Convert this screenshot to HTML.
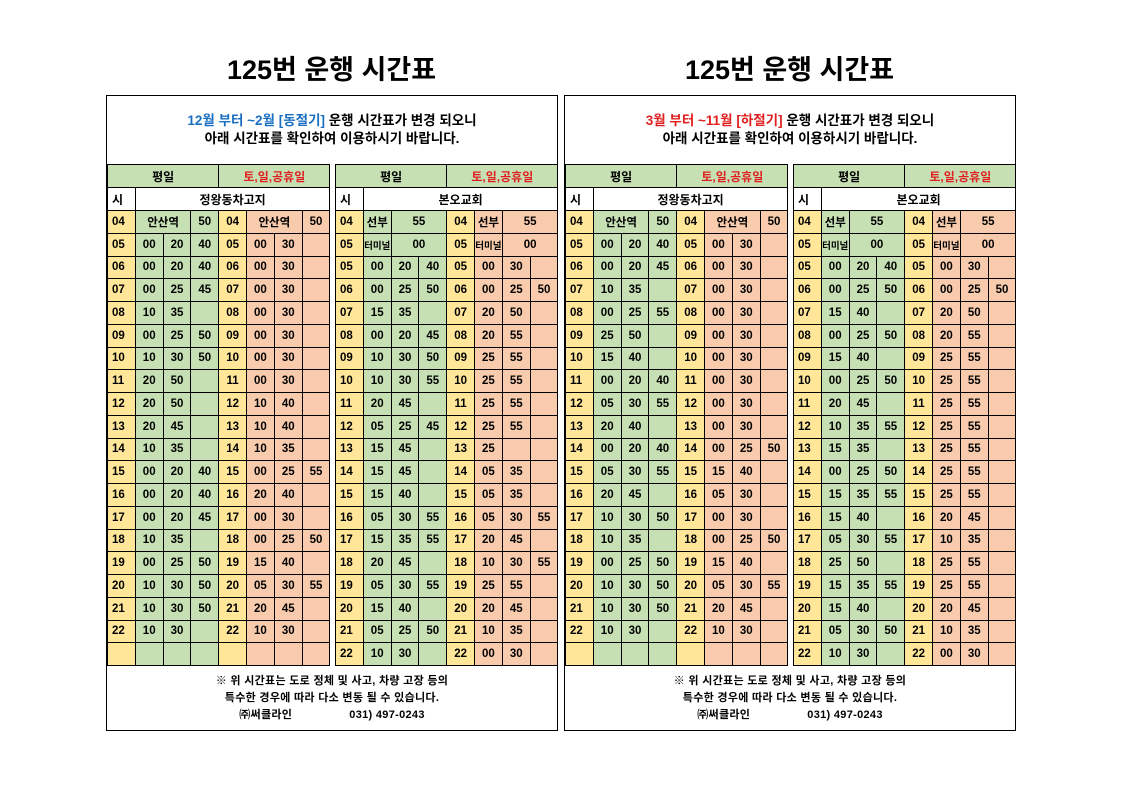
<!DOCTYPE html>
<html><head><meta charset="utf-8"><style>
body{margin:0;width:1122px;height:793px;background:#fff;font-family:"Liberation Sans","Noto Sans CJK KR","NanumGothic",sans-serif;position:relative;overflow:hidden}
.title{position:absolute;top:48px;width:451px;text-align:center;font-size:27px;font-weight:bold;color:#000}
.panel{position:absolute;top:95px;width:450px;height:634px;border:1px solid #000;box-sizing:content-box}
.head{position:absolute;top:16px;left:0;width:100%;text-align:center;font-size:13.5px;font-weight:bold;line-height:18px}
.foot{position:absolute;top:577px;left:0;width:100%;text-align:center;font-size:11px;font-weight:bold;line-height:17px;letter-spacing:0.3px}
table{position:absolute;top:68px;border-collapse:collapse;table-layout:fixed;font-size:11.5px;font-weight:bold}
td{border:1px solid #000;height:21.75px;padding:0;text-align:center;white-space:nowrap;overflow:hidden}
tr.h td{height:22px;font-size:12px}
td:nth-child(1),td:nth-child(5){background:#ffe699}
td:nth-child(2),td:nth-child(3),td:nth-child(4){background:#c6e0b4}
td:nth-child(6),td:nth-child(7),td:nth-child(8){background:#f8cbad}
td.y{background:#ffe699}td.g{background:#c6e0b4}td.p{background:#f8cbad}td.w{background:#fff}
.red{color:#e02020}.blue{color:#1a6fc0}
td.s{font-size:9.5px}
td:first-child{text-align:left;padding-left:4px}
</style></head><body>
<div class="title" style="left:106px">125번 운행 시간표</div>
<div class="title" style="left:564px">125번 운행 시간표</div>

<div class="panel" style="left:106px">
<div class="head"><span class="blue">12월 부터 ~2월 [동절기]</span> 운행 시간표가 변경 되오니<br>아래 시간표를 확인하여 이용하시기 바랍니다.</div>
<table style="left:0;width:223px"><colgroup><col span="8" style="width:27.8px"></colgroup>
<tr class="h"><td class="g" colspan="4" style="text-align:center;padding:0">평일</td><td class="g red" colspan="4" style="text-align:center;padding:0">토,일,공휴일</td></tr>
<tr class="h"><td class="w">시</td><td class="w" colspan="7">정왕동차고지</td></tr>
<tr><td>04</td><td class="g" colspan="2">안산역</td><td class="g">50</td><td class="y">04</td><td class="p" colspan="2">안산역</td><td class="p">50</td></tr>
<tr><td>05</td><td>00</td><td>20</td><td>40</td><td>05</td><td>00</td><td>30</td><td></td></tr>
<tr><td>06</td><td>00</td><td>20</td><td>40</td><td>06</td><td>00</td><td>30</td><td></td></tr>
<tr><td>07</td><td>00</td><td>25</td><td>45</td><td>07</td><td>00</td><td>30</td><td></td></tr>
<tr><td>08</td><td>10</td><td>35</td><td></td><td>08</td><td>00</td><td>30</td><td></td></tr>
<tr><td>09</td><td>00</td><td>25</td><td>50</td><td>09</td><td>00</td><td>30</td><td></td></tr>
<tr><td>10</td><td>10</td><td>30</td><td>50</td><td>10</td><td>00</td><td>30</td><td></td></tr>
<tr><td>11</td><td>20</td><td>50</td><td></td><td>11</td><td>00</td><td>30</td><td></td></tr>
<tr><td>12</td><td>20</td><td>50</td><td></td><td>12</td><td>10</td><td>40</td><td></td></tr>
<tr><td>13</td><td>20</td><td>45</td><td></td><td>13</td><td>10</td><td>40</td><td></td></tr>
<tr><td>14</td><td>10</td><td>35</td><td></td><td>14</td><td>10</td><td>35</td><td></td></tr>
<tr><td>15</td><td>00</td><td>20</td><td>40</td><td>15</td><td>00</td><td>25</td><td>55</td></tr>
<tr><td>16</td><td>00</td><td>20</td><td>40</td><td>16</td><td>20</td><td>40</td><td></td></tr>
<tr><td>17</td><td>00</td><td>20</td><td>45</td><td>17</td><td>00</td><td>30</td><td></td></tr>
<tr><td>18</td><td>10</td><td>35</td><td></td><td>18</td><td>00</td><td>25</td><td>50</td></tr>
<tr><td>19</td><td>00</td><td>25</td><td>50</td><td>19</td><td>15</td><td>40</td><td></td></tr>
<tr><td>20</td><td>10</td><td>30</td><td>50</td><td>20</td><td>05</td><td>30</td><td>55</td></tr>
<tr><td>21</td><td>10</td><td>30</td><td>50</td><td>21</td><td>20</td><td>45</td><td></td></tr>
<tr><td>22</td><td>10</td><td>30</td><td></td><td>22</td><td>10</td><td>30</td><td></td></tr>
<tr><td></td><td></td><td></td><td></td><td></td><td></td><td></td><td></td></tr>
</table>
<table style="left:228px;width:223px"><colgroup><col span="8" style="width:27.8px"></colgroup>
<tr class="h"><td class="g" colspan="4" style="text-align:center;padding:0">평일</td><td class="g red" colspan="4" style="text-align:center;padding:0">토,일,공휴일</td></tr>
<tr class="h"><td class="w">시</td><td class="w" colspan="7">본오교회</td></tr>
<tr><td>04</td><td class="g">선부</td><td class="g" colspan="2">55</td><td class="y">04</td><td class="p">선부</td><td class="p" colspan="2">55</td></tr>
<tr><td>05</td><td class="g s">터미널</td><td class="g" colspan="2">00</td><td class="y">05</td><td class="p s">터미널</td><td class="p" colspan="2">00</td></tr>
<tr><td>05</td><td>00</td><td>20</td><td>40</td><td>05</td><td>00</td><td>30</td><td></td></tr>
<tr><td>06</td><td>00</td><td>25</td><td>50</td><td>06</td><td>00</td><td>25</td><td>50</td></tr>
<tr><td>07</td><td>15</td><td>35</td><td></td><td>07</td><td>20</td><td>50</td><td></td></tr>
<tr><td>08</td><td>00</td><td>20</td><td>45</td><td>08</td><td>20</td><td>55</td><td></td></tr>
<tr><td>09</td><td>10</td><td>30</td><td>50</td><td>09</td><td>25</td><td>55</td><td></td></tr>
<tr><td>10</td><td>10</td><td>30</td><td>55</td><td>10</td><td>25</td><td>55</td><td></td></tr>
<tr><td>11</td><td>20</td><td>45</td><td></td><td>11</td><td>25</td><td>55</td><td></td></tr>
<tr><td>12</td><td>05</td><td>25</td><td>45</td><td>12</td><td>25</td><td>55</td><td></td></tr>
<tr><td>13</td><td>15</td><td>45</td><td></td><td>13</td><td>25</td><td></td><td></td></tr>
<tr><td>14</td><td>15</td><td>45</td><td></td><td>14</td><td>05</td><td>35</td><td></td></tr>
<tr><td>15</td><td>15</td><td>40</td><td></td><td>15</td><td>05</td><td>35</td><td></td></tr>
<tr><td>16</td><td>05</td><td>30</td><td>55</td><td>16</td><td>05</td><td>30</td><td>55</td></tr>
<tr><td>17</td><td>15</td><td>35</td><td>55</td><td>17</td><td>20</td><td>45</td><td></td></tr>
<tr><td>18</td><td>20</td><td>45</td><td></td><td>18</td><td>10</td><td>30</td><td>55</td></tr>
<tr><td>19</td><td>05</td><td>30</td><td>55</td><td>19</td><td>25</td><td>55</td><td></td></tr>
<tr><td>20</td><td>15</td><td>40</td><td></td><td>20</td><td>20</td><td>45</td><td></td></tr>
<tr><td>21</td><td>05</td><td>25</td><td>50</td><td>21</td><td>10</td><td>35</td><td></td></tr>
<tr><td>22</td><td>10</td><td>30</td><td></td><td>22</td><td>00</td><td>30</td><td></td></tr>
</table>
<div class="foot">※ 위 시간표는 도로 정체 및 사고, 차량 고장 등의<br>특수한 경우에 따라 다소 변동 될 수 있습니다.<br>㈜써클라인 &nbsp;&nbsp;&nbsp;&nbsp;&nbsp;&nbsp;&nbsp;&nbsp;&nbsp;&nbsp;&nbsp;&nbsp;&nbsp;&nbsp;&nbsp;&nbsp;031) 497-0243</div>
</div>

<div class="panel" style="left:564px">
<div class="head"><span class="red">3월 부터 ~11월 [하절기]</span> 운행 시간표가 변경 되오니<br>아래 시간표를 확인하여 이용하시기 바랍니다.</div>
<table style="left:0;width:223px"><colgroup><col span="8" style="width:27.8px"></colgroup>
<tr class="h"><td class="g" colspan="4" style="text-align:center;padding:0">평일</td><td class="g red" colspan="4" style="text-align:center;padding:0">토,일,공휴일</td></tr>
<tr class="h"><td class="w">시</td><td class="w" colspan="7">정왕동차고지</td></tr>
<tr><td>04</td><td class="g" colspan="2">안산역</td><td class="g">50</td><td class="y">04</td><td class="p" colspan="2">안산역</td><td class="p">50</td></tr>
<tr><td>05</td><td>00</td><td>20</td><td>40</td><td>05</td><td>00</td><td>30</td><td></td></tr>
<tr><td>06</td><td>00</td><td>20</td><td>45</td><td>06</td><td>00</td><td>30</td><td></td></tr>
<tr><td>07</td><td>10</td><td>35</td><td></td><td>07</td><td>00</td><td>30</td><td></td></tr>
<tr><td>08</td><td>00</td><td>25</td><td>55</td><td>08</td><td>00</td><td>30</td><td></td></tr>
<tr><td>09</td><td>25</td><td>50</td><td></td><td>09</td><td>00</td><td>30</td><td></td></tr>
<tr><td>10</td><td>15</td><td>40</td><td></td><td>10</td><td>00</td><td>30</td><td></td></tr>
<tr><td>11</td><td>00</td><td>20</td><td>40</td><td>11</td><td>00</td><td>30</td><td></td></tr>
<tr><td>12</td><td>05</td><td>30</td><td>55</td><td>12</td><td>00</td><td>30</td><td></td></tr>
<tr><td>13</td><td>20</td><td>40</td><td></td><td>13</td><td>00</td><td>30</td><td></td></tr>
<tr><td>14</td><td>00</td><td>20</td><td>40</td><td>14</td><td>00</td><td>25</td><td>50</td></tr>
<tr><td>15</td><td>05</td><td>30</td><td>55</td><td>15</td><td>15</td><td>40</td><td></td></tr>
<tr><td>16</td><td>20</td><td>45</td><td></td><td>16</td><td>05</td><td>30</td><td></td></tr>
<tr><td>17</td><td>10</td><td>30</td><td>50</td><td>17</td><td>00</td><td>30</td><td></td></tr>
<tr><td>18</td><td>10</td><td>35</td><td></td><td>18</td><td>00</td><td>25</td><td>50</td></tr>
<tr><td>19</td><td>00</td><td>25</td><td>50</td><td>19</td><td>15</td><td>40</td><td></td></tr>
<tr><td>20</td><td>10</td><td>30</td><td>50</td><td>20</td><td>05</td><td>30</td><td>55</td></tr>
<tr><td>21</td><td>10</td><td>30</td><td>50</td><td>21</td><td>20</td><td>45</td><td></td></tr>
<tr><td>22</td><td>10</td><td>30</td><td></td><td>22</td><td>10</td><td>30</td><td></td></tr>
<tr><td></td><td></td><td></td><td></td><td></td><td></td><td></td><td></td></tr>
</table>
<table style="left:228px;width:223px"><colgroup><col span="8" style="width:27.8px"></colgroup>
<tr class="h"><td class="g" colspan="4" style="text-align:center;padding:0">평일</td><td class="g red" colspan="4" style="text-align:center;padding:0">토,일,공휴일</td></tr>
<tr class="h"><td class="w">시</td><td class="w" colspan="7">본오교회</td></tr>
<tr><td>04</td><td class="g">선부</td><td class="g" colspan="2">55</td><td class="y">04</td><td class="p">선부</td><td class="p" colspan="2">55</td></tr>
<tr><td>05</td><td class="g s">터미널</td><td class="g" colspan="2">00</td><td class="y">05</td><td class="p s">터미널</td><td class="p" colspan="2">00</td></tr>
<tr><td>05</td><td>00</td><td>20</td><td>40</td><td>05</td><td>00</td><td>30</td><td></td></tr>
<tr><td>06</td><td>00</td><td>25</td><td>50</td><td>06</td><td>00</td><td>25</td><td>50</td></tr>
<tr><td>07</td><td>15</td><td>40</td><td></td><td>07</td><td>20</td><td>50</td><td></td></tr>
<tr><td>08</td><td>00</td><td>25</td><td>50</td><td>08</td><td>20</td><td>55</td><td></td></tr>
<tr><td>09</td><td>15</td><td>40</td><td></td><td>09</td><td>25</td><td>55</td><td></td></tr>
<tr><td>10</td><td>00</td><td>25</td><td>50</td><td>10</td><td>25</td><td>55</td><td></td></tr>
<tr><td>11</td><td>20</td><td>45</td><td></td><td>11</td><td>25</td><td>55</td><td></td></tr>
<tr><td>12</td><td>10</td><td>35</td><td>55</td><td>12</td><td>25</td><td>55</td><td></td></tr>
<tr><td>13</td><td>15</td><td>35</td><td></td><td>13</td><td>25</td><td>55</td><td></td></tr>
<tr><td>14</td><td>00</td><td>25</td><td>50</td><td>14</td><td>25</td><td>55</td><td></td></tr>
<tr><td>15</td><td>15</td><td>35</td><td>55</td><td>15</td><td>25</td><td>55</td><td></td></tr>
<tr><td>16</td><td>15</td><td>40</td><td></td><td>16</td><td>20</td><td>45</td><td></td></tr>
<tr><td>17</td><td>05</td><td>30</td><td>55</td><td>17</td><td>10</td><td>35</td><td></td></tr>
<tr><td>18</td><td>25</td><td>50</td><td></td><td>18</td><td>25</td><td>55</td><td></td></tr>
<tr><td>19</td><td>15</td><td>35</td><td>55</td><td>19</td><td>25</td><td>55</td><td></td></tr>
<tr><td>20</td><td>15</td><td>40</td><td></td><td>20</td><td>20</td><td>45</td><td></td></tr>
<tr><td>21</td><td>05</td><td>30</td><td>50</td><td>21</td><td>10</td><td>35</td><td></td></tr>
<tr><td>22</td><td>10</td><td>30</td><td></td><td>22</td><td>00</td><td>30</td><td></td></tr>
</table>
<div class="foot">※ 위 시간표는 도로 정체 및 사고, 차량 고장 등의<br>특수한 경우에 따라 다소 변동 될 수 있습니다.<br>㈜써클라인 &nbsp;&nbsp;&nbsp;&nbsp;&nbsp;&nbsp;&nbsp;&nbsp;&nbsp;&nbsp;&nbsp;&nbsp;&nbsp;&nbsp;&nbsp;&nbsp;031) 497-0243</div>
</div>
</body></html>
